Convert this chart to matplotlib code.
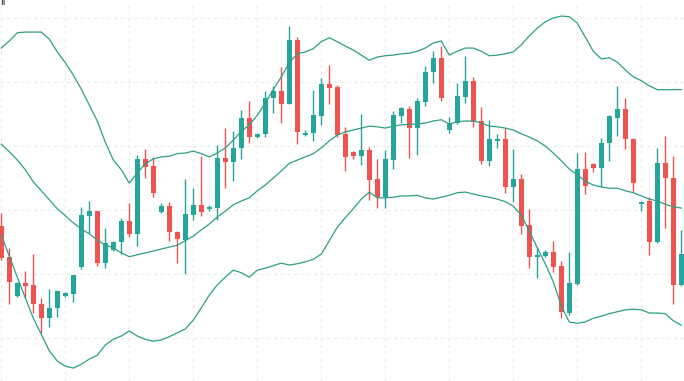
import matplotlib
matplotlib.use("Agg")
import matplotlib.pyplot as plt
from matplotlib.ticker import MultipleLocator
import numpy as np

# OHLC values (arbitrary price units)
opens = [27.5, 22.7, 16.6, 18.6, 18.3, 15.3, 13.1, 14.7, 16.6, 16.9,
         21.1, 29.1, 29.8, 21.7, 23.8, 25.0, 28.3, 26.3, 38.0, 36.9,
         29.7, 30.6, 26.6, 25.3, 29.2, 30.8, 30.2, 30.3, 38.1, 37.5,
         39.7, 44.4, 41.4, 41.9, 47.5, 48.6, 46.6, 56.6, 41.7, 42.0,
         44.7, 49.7, 49.2, 41.9, 39.1, 38.4, 39.4, 34.8, 32.0, 37.8,
         44.7, 45.8, 42.8, 46.9, 51.6, 53.8, 42.5, 43.6, 47.7, 50.2,
         43.9, 37.7, 40.8, 41.1, 33.6, 34.8, 27.7, 22.7, 22.8, 23.4,
         21.3, 13.9, 18.4, 36.4, 37.2, 36.6, 40.5, 44.4, 45.8, 41.1,
         30.9, 31.4, 25.0, 37.3, 35.0, 18.3]
highs = [29.5, 24.1, 18.8, 20.5, 23.1, 16.3, 17.7, 17.5, 17.2, 19.8,
         30.5, 31.4, 29.9, 27.2, 25.2, 28.8, 31.1, 38.6, 39.5, 38.3,
         31.1, 31.3, 26.7, 34.8, 33.4, 38.4, 30.8, 40.2, 42.8, 42.3,
         45.6, 47.0, 42.0, 48.6, 49.4, 52.3, 58.8, 57.0, 42.5, 48.8,
         50.6, 52.7, 49.5, 43.0, 39.2, 45.0, 39.8, 38.0, 39.4, 45.5,
         46.1, 46.3, 47.5, 52.5, 54.8, 55.6, 44.5, 49.8, 54.1, 50.8,
         46.1, 44.1, 41.9, 42.8, 39.5, 35.6, 30.2, 24.2, 23.8, 25.2,
         22.0, 23.4, 38.9, 39.1, 37.3, 41.3, 44.8, 49.4, 47.5, 41.2,
         31.4, 32.0, 39.7, 41.6, 38.4, 26.9]
lows = [22.2, 15.3, 16.4, 16.3, 13.9, 10.8, 11.7, 13.3, 16.4, 15.6,
        20.8, 26.4, 21.3, 20.9, 23.6, 23.1, 25.8, 24.4, 35.0, 32.0,
        29.6, 25.2, 21.7, 20.0, 28.4, 29.1, 29.8, 28.4, 33.4, 34.5,
        38.0, 40.5, 41.3, 41.4, 45.2, 43.6, 46.5, 40.3, 41.6, 40.8,
        43.3, 46.6, 41.4, 36.1, 38.0, 37.0, 31.6, 30.3, 30.3, 36.4,
        43.6, 38.1, 38.6, 46.3, 49.8, 47.0, 42.0, 43.4, 46.7, 43.0,
        37.2, 36.9, 39.7, 32.7, 31.3, 26.3, 20.9, 19.4, 22.6, 20.3,
        13.1, 13.6, 18.3, 32.5, 35.9, 33.6, 37.7, 41.6, 39.5, 32.8,
        29.8, 23.0, 24.8, 27.2, 15.3, 18.2]
closes = [22.5, 18.8, 18.6, 18.1, 15.3, 13.1, 14.7, 17.3, 17.0, 19.8,
          29.2, 29.8, 21.7, 24.8, 25.0, 28.3, 26.3, 38.0, 36.7, 32.7,
          30.6, 26.6, 25.5, 29.4, 30.8, 29.7, 30.5, 38.1, 37.5, 39.7,
          44.4, 41.4, 41.9, 47.5, 48.6, 46.6, 56.6, 42.2, 42.0, 44.8,
          49.7, 49.1, 41.7, 38.3, 38.4, 39.4, 34.7, 32.0, 38.0, 44.8,
          45.9, 42.8, 47.0, 51.6, 53.8, 47.5, 43.6, 47.8, 50.2, 43.8,
          37.7, 41.1, 41.1, 33.6, 34.8, 27.5, 22.7, 23.0, 23.4, 21.1,
          14.1, 18.6, 36.4, 33.8, 36.6, 40.5, 44.7, 45.8, 41.1, 34.2,
          31.3, 25.0, 37.3, 35.0, 18.3, 23.1]

# Bollinger bands
bb_upper = [55.3, 56.4, 57.7, 57.8, 57.8, 57.8, 56.7, 54.7, 53.0, 51.1,
            48.9, 46.4, 43.9, 40.6, 37.8, 36.3, 34.2, 35.8, 37.2, 38.0,
            38.3, 38.4, 38.8, 38.9, 39.2, 38.8, 38.3, 38.9, 39.7, 40.9,
            42.3, 43.3, 44.8, 46.7, 48.8, 50.8, 53.0, 54.4, 54.7, 55.2,
            56.3, 56.9, 56.3, 55.6, 55.0, 54.2, 53.4, 53.9, 54.1, 54.2,
            54.4, 54.5, 54.8, 55.3, 56.1, 56.4, 54.2, 54.8, 55.3, 55.3,
            54.8, 54.1, 54.2, 54.4, 54.7, 55.8, 57.2, 58.4, 59.4, 60.0,
            60.3, 60.2, 59.2, 57.0, 54.8, 53.6, 53.8, 53.1, 51.9, 50.8,
            50.2, 49.4, 48.8, 48.8, 48.8, 48.8]
bb_middle = [40.3, 39.1, 37.8, 36.3, 34.4, 33.0, 31.6, 30.2, 29.1, 28.0,
             27.0, 26.3, 25.3, 24.5, 24.1, 23.3, 22.7, 23.0, 23.3, 23.6,
             23.9, 24.2, 24.5, 25.2, 25.9, 26.9, 27.8, 28.9, 29.8, 30.8,
             31.4, 31.9, 33.0, 33.9, 35.0, 36.1, 37.3, 37.8, 38.3, 38.8,
             39.7, 40.8, 41.7, 42.2, 42.5, 42.8, 43.1, 43.0, 42.8, 43.1,
             43.3, 43.4, 43.4, 43.6, 43.9, 44.1, 43.4, 43.8, 43.9, 43.9,
             43.6, 43.1, 43.0, 42.8, 42.5, 41.9, 41.4, 40.8, 40.0, 38.9,
             37.7, 36.4, 35.5, 34.5, 33.9, 33.6, 33.4, 33.4, 33.0, 32.7,
             32.2, 31.7, 31.4, 30.9, 30.5, 30.3]
bb_lower = [26.1, 22.8, 19.5, 16.3, 13.1, 10.6, 8.0, 6.4, 5.6, 5.3,
            5.9, 6.7, 7.3, 8.9, 9.8, 10.3, 11.1, 10.3, 9.8, 9.5,
            9.7, 10.2, 10.8, 11.4, 12.8, 14.7, 16.7, 18.3, 19.5, 20.6,
            20.2, 19.5, 20.6, 20.9, 21.3, 21.7, 21.4, 21.6, 21.9, 22.3,
            23.1, 25.2, 27.3, 28.8, 30.2, 31.7, 32.8, 31.9, 31.9, 32.0,
            32.2, 32.2, 32.3, 31.9, 31.7, 32.0, 32.3, 32.7, 32.8, 32.5,
            32.2, 32.0, 31.7, 31.3, 30.6, 29.2, 26.7, 24.1, 21.6, 18.8,
            15.0, 12.5, 12.3, 12.5, 13.1, 13.4, 13.8, 14.1, 14.4, 14.5,
            14.4, 13.9, 13.9, 13.8, 12.7, 12.0]

UP = "#26a69a"
DOWN = "#ef5350"
BAND = "#2e9f84"

fig = plt.figure(figsize=(6.84, 3.81), dpi=100)
ax = fig.add_axes([0, 0, 1, 1])

o = np.array(opens); h = np.array(highs); l = np.array(lows); c = np.array(closes)
x = np.arange(len(o))
up = c >= o
colors = np.where(up, UP, DOWN)

ax.vlines(x, l, h, colors=colors, linewidth=1.0, zorder=3)
body_bottom = np.minimum(o, c)
body_h = np.maximum(np.abs(c - o), 0.25)
ax.bar(x, body_h, bottom=body_bottom, width=0.62, color=colors,
       edgecolor=colors, linewidth=0, zorder=4)

xb = np.arange(len(bb_upper))
for band in (bb_upper, bb_middle, bb_lower):
    ax.plot(xb, band, color=BAND, linewidth=0.9, zorder=5)

ax.set_xlim(-0.16, 85.34)
ax.set_ylim(3.28, 62.81)
ax.yaxis.set_major_locator(MultipleLocator(10))
ax.xaxis.set_major_locator(MultipleLocator(8))
ax.grid(True, color="#ebebeb", linestyle=(0, (3, 3)), linewidth=0.8, zorder=0)
ax.set_axisbelow(True)
ax.tick_params(left=False, bottom=False, labelleft=False, labelbottom=False)
for s in ax.spines.values():
    s.set_visible(False)

fig.text(0.0, 1 - 5 / 381, "ıl", fontsize=7, color="#222222", va="baseline", ha="left")

fig.savefig("out.png", dpi=100)
